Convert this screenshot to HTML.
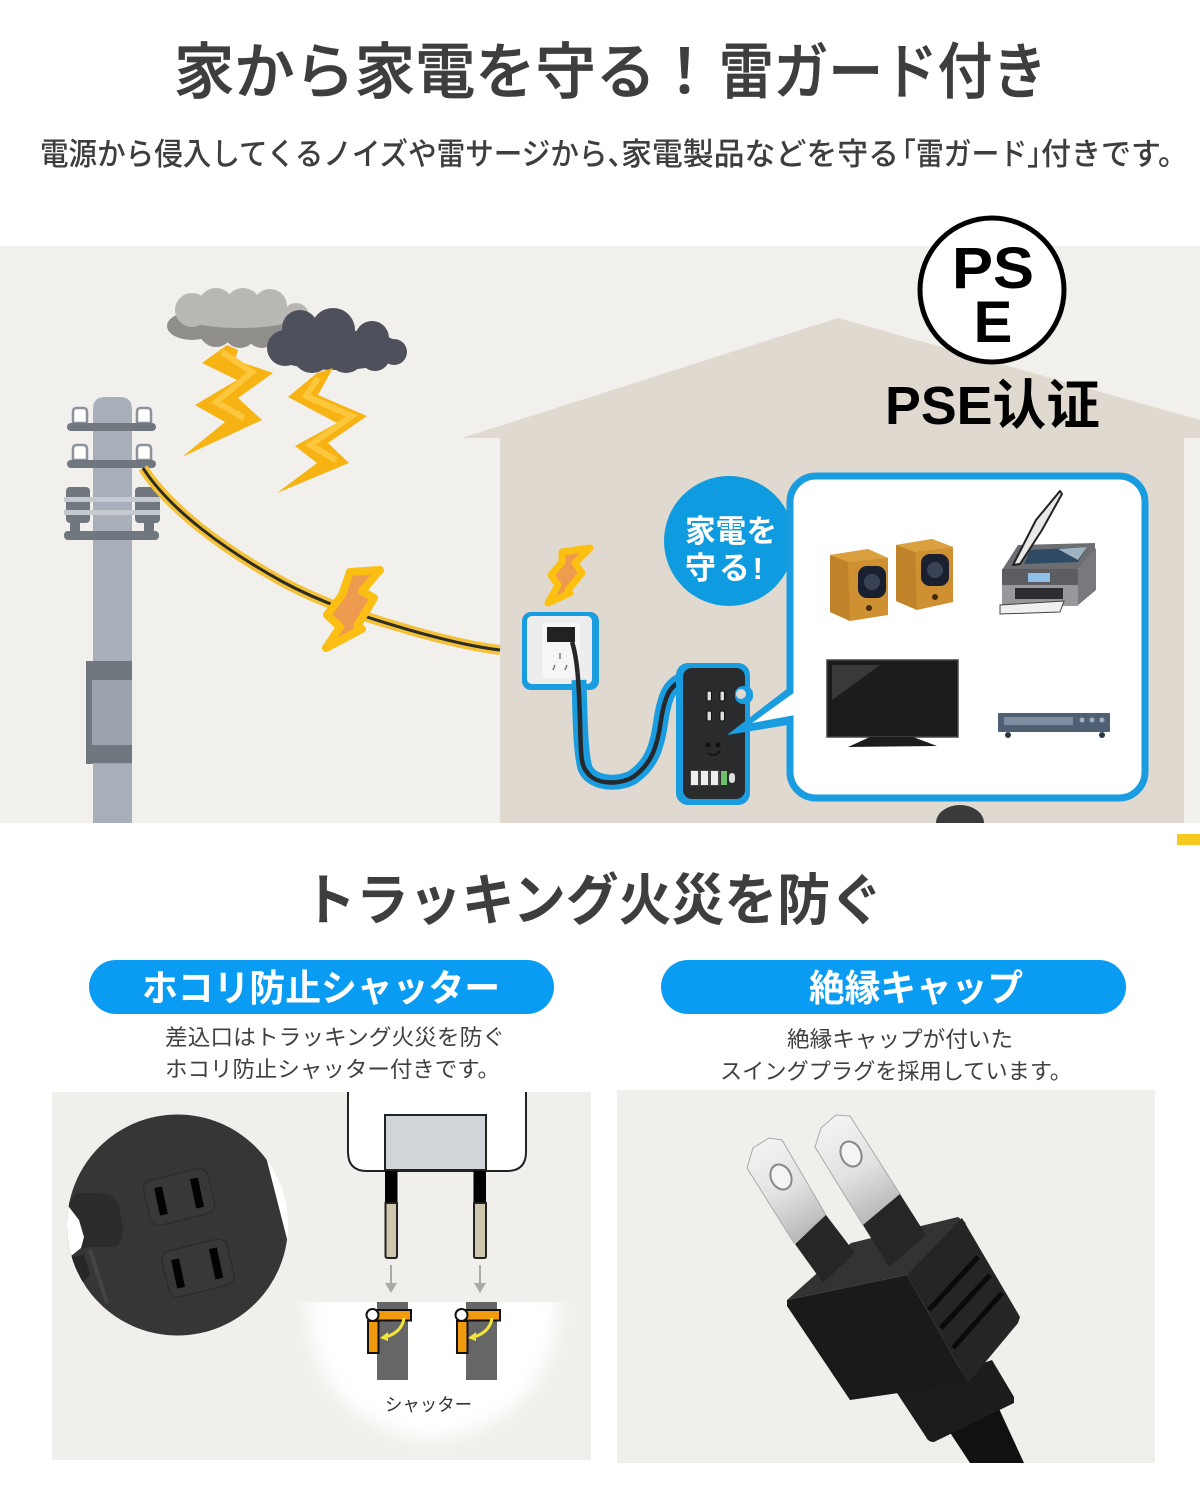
<!DOCTYPE html>
<html lang="ja"><head><meta charset="utf-8"><style>
html,body{margin:0;padding:0;background:#fff}
svg{display:block}
text{font-family:"Liberation Sans","Noto Sans CJK JP",sans-serif}
</style></head><body>
<svg width="1200" height="1500" viewBox="0 0 1200 1500" xmlns="http://www.w3.org/2000/svg">
<defs>
<clipPath id="cc"><circle cx="177.500" cy="1225" r="110.500"/></clipPath>
<clipPath id="gc"><rect x="280" y="1302" width="300" height="160"/></clipPath>
<filter id="bl" x="-20%" y="-20%" width="140%" height="140%"><feGaussianBlur stdDeviation="9"/></filter>
<linearGradient id="bladeL" x1="0" y1="0" x2="0.4" y2="1"><stop offset="0" stop-color="#f6f6f6"/><stop offset=".6" stop-color="#e2e2e2"/><stop offset="1" stop-color="#bdbdbd"/></linearGradient>
</defs>
<rect width="1200" height="1500" fill="#fff"/>

<g fill="#3e3e3e" stroke="#3e3e3e" stroke-width=".7">
<text x="174" y="93" font-size="61" font-weight="500" textLength="482" lengthAdjust="spacingAndGlyphs">家から家電を守る</text>
<text x="654" y="93" font-size="61" font-weight="500">！</text>
<text x="719" y="93" font-size="61" font-weight="500" textLength="328" lengthAdjust="spacingAndGlyphs">雷ガード付き</text>
</g>
<g fill="#3e3e3e" font-size="31" font-weight="500">
<text x="40" y="165" textLength="596" lengthAdjust="spacingAndGlyphs">電源から侵入してくるノイズや雷サージから、</text>
<text x="621" y="165" textLength="278" lengthAdjust="spacingAndGlyphs">家電製品などを守る</text>
<text x="888" y="165" textLength="167" lengthAdjust="spacingAndGlyphs">「雷ガード」</text>
<text x="1041" y="165" textLength="147" lengthAdjust="spacingAndGlyphs">付きです。</text>
</g>

<!-- illustration background -->
<rect x="0" y="246" width="1200" height="577" fill="#f1f0ec"/>
<polygon points="462,438 838,318 1200,420 1200,823 500,823 500,438" fill="#e0d9cf"/>
<rect x="1184" y="438" width="16" height="385" fill="#f1f0ec"/>
<polygon points="1184,438 1200,438 1200,424 1184,424" fill="#e0d9cf"/>

<!-- pole -->
<path d="M93 823V409Q93 397 105 397H120Q132 397 132 409V823Z" fill="#a8afba"/>
<g fill="#fff" stroke="#8b929b" stroke-width="2.500">
<path d="M73 423V412Q73 408 77 408H83Q87 408 87 412V423Z"/><path d="M137 423V412Q137 408 141 408H147Q151 408 151 412V423Z"/>
<path d="M73 460V449Q73 445 77 445H83Q87 445 87 449V460Z"/><path d="M137 460V449Q137 445 141 445H147Q151 445 151 449V460Z"/>
</g>
<g fill="#70777f">
<rect x="67" y="423" width="89" height="8" rx="4"/>
<rect x="67" y="460" width="89" height="8" rx="4"/>
<rect x="66" y="487" width="24" height="36" rx="4"/>
<rect x="135" y="487" width="25" height="36" rx="4"/>
<rect x="70" y="520" width="10" height="12"/><rect x="144" y="520" width="10" height="12"/>
<rect x="64" y="531" width="95" height="9" rx="4"/>
</g>
<rect x="64" y="497" width="96" height="5" fill="#c5cad0"/>
<rect x="64" y="510" width="96" height="5" fill="#c5cad0"/>
<rect x="86" y="661" width="46" height="103" fill="#9ba3ae"/>
<rect x="86" y="661" width="46" height="19" fill="#70777f"/>
<rect x="86" y="745" width="46" height="18" fill="#70777f"/>
<rect x="86" y="661" width="6" height="103" fill="#70777f"/>

<!-- wire -->
<path d="M143 468C170 510 225 550 283 582C320 602 360 616 420 633C450 641 475 647 500 650" fill="none" stroke="#f3c238" stroke-width="10"/>
<path d="M143 468C170 510 225 550 283 582C320 602 360 616 420 633C450 641 475 647 500 650" fill="none" stroke="#2d2d25" stroke-width="3"/>

<!-- clouds -->
<g fill="#8f8e8b"><ellipse cx="192" cy="326" rx="25" ry="14"/><circle cx="216" cy="330" r="17"/><circle cx="240" cy="332" r="16"/><circle cx="262" cy="332" r="16"/><rect x="255" y="316" width="52" height="22"/></g>
<g fill="#b9b7b2"><circle cx="192" cy="310" r="17"/><circle cx="216" cy="306" r="18"/><circle cx="243" cy="306" r="18"/><circle cx="270" cy="306" r="17"/><circle cx="296" cy="316" r="13"/><ellipse cx="240" cy="316" rx="58" ry="12"/></g>
<g fill="#4e505c"><ellipse cx="336" cy="350" rx="68" ry="20"/><circle cx="300" cy="328" r="18"/><circle cx="333" cy="330" r="22"/><circle cx="372" cy="338" r="17"/><circle cx="394" cy="352" r="13"/><circle cx="285" cy="348" r="18"/><circle cx="312" cy="353" r="20"/><circle cx="346" cy="354" r="19"/><circle cx="375" cy="356" r="15"/></g>

<!-- lightning -->
<polygon points="202,363 227,345 238,350 235,360 273,373 238,398 262,420 182,457 225,422 195,405 237,380" fill="#f6b313"/>
<polyline points="222,352 252,372 216,402 244,418" fill="none" stroke="#fcc73c" stroke-width="6"/>
<polygon points="317,373 333,368 318,395 367,416 328,443 349,463 277,493 317,463 295,446 337,423 288,397" fill="#f6b313"/>
<polyline points="318,378 306,396 352,416 310,445 336,460" fill="none" stroke="#fcc73c" stroke-width="6"/>
<polygon points="350,572 380,570 362,591 374,598 357,626 362,629 326,648 340,627 327,615 342,595" fill="#ee9a4f" stroke="#fbbe12" stroke-width="8" stroke-linejoin="round"/>
<polygon points="562,552 590,548 575,563 582,573 568,590 570,593 548,603 558,585 551,575 562,562" fill="#ee9b4e" stroke="#fcc010" stroke-width="7" stroke-linejoin="round"/>

<!-- PSE -->
<circle cx="992" cy="290" r="72" fill="#fff" stroke="#000" stroke-width="5"/>
<text x="993" y="288" font-size="58" font-weight="700" fill="#000" text-anchor="middle" textLength="82" lengthAdjust="spacingAndGlyphs">PS</text>
<text x="993" y="342" font-size="58" font-weight="700" fill="#000" text-anchor="middle">E</text>
<text x="885" y="424" font-size="54" font-weight="700" fill="#000" textLength="215" lengthAdjust="spacingAndGlyphs">PSE认证</text>

<!-- callout -->
<circle cx="729" cy="541" r="65" fill="#0f9be0"/>
<text x="685" y="542" font-size="31" font-weight="700" fill="#fff" textLength="92" lengthAdjust="spacingAndGlyphs">家電を</text>
<text x="685" y="579" font-size="31" font-weight="700" fill="#fff" textLength="78" lengthAdjust="spacing">守る!</text>

<!-- wall plate -->
<rect x="522" y="612" width="77" height="78" rx="9" fill="#1a9ce0"/>
<rect x="527" y="616" width="65" height="68" rx="5" fill="#ededed"/>
<rect x="542" y="623" width="38" height="55" rx="2" fill="#f6f6f6"/>
<path d="M560 653v6M555 665l-2 5M567 665l-2 5" stroke="#777" stroke-width="1.500" fill="none"/>
<rect x="547" y="627" width="28" height="15" fill="#222"/>

<!-- cable -->
<path d="M579 680C580 710 580 750 585 768C592 785 620 785 633 777C650 765 657 750 661 720C665 695 670 685 682 680" fill="none" stroke="#1a9ce0" stroke-width="15"/>
<path d="M572 642C578 660 579 690 580 720C581 750 580 765 587 772C595 785 620 785 633 777C650 765 657 750 661 720C665 695 670 685 684 680" fill="none" stroke="#26282b" stroke-width="4.500"/>

<!-- power strip -->
<rect x="676" y="663" width="74" height="142" rx="12" fill="#1a9ce0"/>
<rect x="683" y="668" width="62" height="131" rx="9" fill="#2a2b2d"/>
<rect x="735" y="686" width="18" height="18" rx="8" fill="#1a9ce0"/>
<circle cx="741" cy="694" r="5" fill="#e0d9cf"/>
<g fill="#ddd" stroke="#111" stroke-width="1">
<rect x="707" y="691" width="4.500" height="10" rx="2"/><rect x="720" y="691" width="4.500" height="10" rx="2"/>
<rect x="707" y="711" width="4.500" height="10" rx="2"/><rect x="720" y="711" width="4.500" height="10" rx="2"/>
</g>
<circle cx="708" cy="745" r="2.500" fill="#111"/><circle cx="718" cy="745" r="2.500" fill="#111"/>
<path d="M708 753q6 5 12-2" stroke="#111" stroke-width="1.500" fill="none"/>
<g>
<rect x="690" y="770" width="30" height="16" fill="#444"/>
<rect x="691" y="771" width="7" height="14" fill="#eee"/><rect x="701" y="771" width="7" height="14" fill="#eee"/><rect x="711" y="771" width="7" height="14" fill="#eee"/>
<rect x="721" y="771" width="6" height="14" fill="#6fc06a"/><rect x="729" y="773" width="6" height="10" rx="3" fill="#ddd"/>
</g>

<!-- box + pointer -->
<polygon points="788,688 727,735 788,725" fill="#1a9ce0"/>
<rect x="790" y="476" width="355" height="322" rx="26" fill="#fff" stroke="#1a9ce0" stroke-width="7"/>
<polygon points="795,692 752,723 795,715" fill="#fff"/>

<!-- speakers -->
<polygon points="830,555 868,549 888,558 888,615 850,621 830,612" fill="#cf9032"/>
<polygon points="830,555 848,562 850,621 830,612" fill="#c0832a"/>
<polygon points="830,555 868,549 888,558 848,562" fill="#dba140"/>
<rect x="858" y="566" width="28" height="32" rx="9" fill="#1b2030"/><circle cx="872" cy="582" r="8" fill="#3a4256"/>
<circle cx="869" cy="608" r="3" fill="#432a0c"/>
<polygon points="896,545 932,539 953,547 953,602 917,610 896,601" fill="#cf9032"/>
<polygon points="896,545 915,552 917,610 896,601" fill="#c0832a"/>
<polygon points="896,545 932,539 953,547 915,552" fill="#dba140"/>
<rect x="921" y="554" width="28" height="32" rx="9" fill="#1b2030"/><circle cx="935" cy="570" r="8" fill="#3a4256"/>
<circle cx="935" cy="597" r="3" fill="#432a0c"/>
<!-- printer -->
<polygon points="1002,570 1018,545 1095,543 1095,558 1077,569" fill="#6c6e72"/>
<polygon points="1030,550 1087,547 1078,562 1024,564" fill="#2f4a63"/>
<polygon points="1058,549 1087,547 1078,560" fill="#9fb2bf"/>
<polygon points="1077,569 1096,548 1096,590 1077,606" fill="#77797c"/>
<rect x="1002" y="569" width="76" height="37" fill="#97989b"/>
<rect x="1002" y="569" width="76" height="16" fill="#5c5d60"/>
<rect x="1028" y="573" width="22" height="9" fill="#8fc1e8"/>
<rect x="1015" y="588" width="48" height="11" fill="#2d2d30"/>
<polygon points="1000,605 1064,601 1060,612 1000,614" fill="#f0f0f0" stroke="#444" stroke-width="1"/>
<polygon points="1013,565 1036,520 1060,491 1062,494 1042,530 1020,564" fill="#e8e8e8" stroke="#222" stroke-width="2" stroke-linejoin="round"/>
<!-- TV -->
<rect x="827" y="660" width="131" height="77" fill="#1d1b1d" stroke="#444" stroke-width="1.500"/>
<polygon points="832,665 880,665 832,700" fill="#3a383a"/>
<polygon points="870,737 913,737 937,746 848,747" fill="#1d1b1d"/>
<!-- DVD -->
<rect x="998" y="713" width="112" height="19" rx="1" fill="#4f6075"/>
<rect x="1004" y="717" width="69" height="8" fill="#7e8da0"/>
<circle cx="1082" cy="720" r="2.500" fill="#9fb0c2"/><circle cx="1092" cy="720" r="2.500" fill="#9fb0c2"/><circle cx="1102" cy="720" r="2.500" fill="#9fb0c2"/>
<circle cx="1008" cy="735" r="3" fill="#2c3645"/><circle cx="1102" cy="735" r="3" fill="#2c3645"/>

<!-- cut-off bit -->
<path d="M936 823a24 18 0 0 1 48 0z" fill="#3a3a3a"/>
<rect x="0" y="823" width="1200" height="677" fill="#fff"/>
<rect x="1177" y="834" width="23" height="11" fill="#f6c91f"/>

<!-- section 2 -->
<text x="303" y="920" font-size="56" font-weight="700" fill="#3e3e3e" textLength="580" lengthAdjust="spacingAndGlyphs">トラッキング火災を防ぐ</text>
<rect x="89" y="960" width="465" height="54" rx="27" fill="#0a9cf2"/>
<rect x="661" y="960" width="465" height="54" rx="27" fill="#0a9cf2"/>
<text x="321" y="1001" font-size="37" font-weight="700" fill="#fff" text-anchor="middle" textLength="358" lengthAdjust="spacingAndGlyphs">ホコリ防止シャッター</text>
<text x="916" y="1001" font-size="37" font-weight="700" fill="#fff" text-anchor="middle" textLength="214" lengthAdjust="spacingAndGlyphs">絶縁キャップ</text>
<g font-size="22" fill="#3f3f3f">
<text x="165" y="1045" textLength="340" lengthAdjust="spacingAndGlyphs">差込口はトラッキング火災を防ぐ</text>
<text x="165" y="1077" textLength="335" lengthAdjust="spacingAndGlyphs">ホコリ防止シャッター付きです。</text>
<text x="787" y="1047" textLength="226" lengthAdjust="spacingAndGlyphs">絶縁キャップが付いた</text>
<text x="720" y="1079" textLength="352" lengthAdjust="spacingAndGlyphs">スイングプラグを採用しています。</text>
</g>

<!-- left panel -->
<rect x="52" y="1092" width="539" height="368" fill="#f0efeb"/>
<circle cx="177.500" cy="1225" r="110.500" fill="#fff"/>
<g clip-path="url(#cc)">
<polygon points="60,1100 262,1100 265,1153 288,1243 288,1345 60,1345" fill="#363636"/>
<path d="M69 1203L76 1193H101Q117 1195 119 1207L123 1230Q122 1245 114 1247H90L81 1248Z" fill="#2b2b2b"/>
<polygon points="60,1200 69,1207 79,1220 84,1237 81,1248 71,1256 60,1256" fill="#fff"/>
<polygon points="70,1258 84,1254 90,1275 80,1285" fill="#262626"/>
<path d="M90 1250L107 1303" stroke="#444" stroke-width="4"/>
</g>
<rect x="146" y="1174" width="66" height="46" rx="9" fill="#383838" stroke="#2c2c2c" stroke-width="1.500" transform="rotate(-14 179 1197)"/>
<rect x="164.500" y="1244.500" width="67" height="47" rx="9" fill="#383838" stroke="#2c2c2c" stroke-width="1.500" transform="rotate(-14 198 1268)"/>
<g fill="#030303">
<rect x="157" y="1187" width="8" height="28" transform="rotate(-12 161 1201)"/>
<rect x="193" y="1178" width="8" height="30" transform="rotate(-12 197 1193)"/>
<rect x="174" y="1259" width="8" height="29" transform="rotate(-12 178 1273)"/>
<rect x="212" y="1248" width="8" height="31" transform="rotate(-12 216 1263)"/>
</g>

<!-- glow -->
<g clip-path="url(#gc)"><path d="M308 1290H558C562 1370 520 1430 430 1440C345 1430 305 1370 308 1290Z" fill="#fff" filter="url(#bl)"/></g>

<!-- plug diagram -->
<path d="M348 1092V1152Q348 1171 367 1171H507Q526 1171 526 1152V1092" fill="#fff" stroke="#222" stroke-width="2"/>
<rect x="385" y="1115" width="101" height="55" fill="#d0d5da" stroke="#222" stroke-width="2"/>
<rect x="385" y="1171" width="12.500" height="33" fill="#000"/>
<rect x="473.500" y="1171" width="12.500" height="33" fill="#000"/>
<path d="M385.500 1203V1256Q385.500 1258 388 1258H395Q397 1258 397 1256V1203Z" fill="#cfc6ae" stroke="#222" stroke-width="2"/>
<path d="M474 1203V1256Q474 1258 476 1258H484Q486 1258 486 1256V1203Z" fill="#cfc6ae" stroke="#222" stroke-width="2"/>
<path d="M391 1265V1285M480 1265V1285" stroke="#aaa" stroke-width="2"/>
<polygon points="385,1283 397,1283 391,1293" fill="#aaa"/><polygon points="474,1283 486,1283 480,1293" fill="#aaa"/>
<g>
<rect x="377" y="1302" width="31" height="78" fill="#666"/><rect x="466" y="1302" width="31" height="78" fill="#666"/>
<g fill="#f29a0e" stroke="#111" stroke-width="2">
<rect x="377" y="1310" width="34" height="10.500"/><rect x="368" y="1321" width="10.500" height="32"/>
<rect x="466" y="1310" width="34" height="10.500"/><rect x="457" y="1321" width="10.500" height="32"/>
</g>
<circle cx="372.500" cy="1315" r="6" fill="#fff" stroke="#111" stroke-width="2"/>
<circle cx="461.500" cy="1315" r="6" fill="#fff" stroke="#111" stroke-width="2"/>
<path d="M404 1318Q402 1332 386 1337M492 1318Q490 1332 474 1337" fill="none" stroke="#f5e43a" stroke-width="3"/>
<polygon points="380,1338 388,1332 388,1341" fill="#f5e43a"/><polygon points="468,1338 476,1332 476,1341" fill="#f5e43a"/>
</g>
<text x="385" y="1411" font-size="18" fill="#333" textLength="87" lengthAdjust="spacingAndGlyphs">シャッター</text>

<!-- right panel -->
<rect x="617" y="1090" width="538" height="373" fill="#f0efeb"/>
<!-- cord -->
<polygon points="945,1425 995,1400 1024,1463 970,1463" fill="#111"/>
<path d="M897 1393L992 1360L1014 1397V1403L934 1442Q928 1442 926 1437Z" fill="#1c1c1c"/>
<!-- blades -->
<polygon points="747,1168 753,1148 769,1138 782,1140 826,1215 794,1243" fill="url(#bladeL)" stroke="#aaa" stroke-width="1"/>
<polygon points="815,1147 821,1128 836,1115 850,1116 900,1194 863,1225" fill="url(#bladeL)" stroke="#aaa" stroke-width="1"/>
<ellipse cx="781" cy="1177" rx="10" ry="13" fill="#f4f4f4" stroke="#888" stroke-width="2" transform="rotate(-25 781 1177)"/>
<ellipse cx="851" cy="1154" rx="10" ry="13" fill="#f4f4f4" stroke="#888" stroke-width="2" transform="rotate(-25 851 1154)"/>
<!-- body -->
<polygon points="787,1300 851,1243 958,1217 966,1223 907,1275" fill="#333"/>
<polygon points="787,1300 907,1275 968,1383 850,1400 787,1306" fill="#1a1a1a"/>
<polygon points="907,1275 962,1218 1020,1317 1018,1323 968,1383" fill="#252525"/>
<polygon points="826,1215 795,1244 823,1283 855,1253" fill="#262626"/>
<polygon points="900,1194 863,1225 889,1267 926,1235" fill="#262626"/>
<path d="M929 1310L978 1257M941 1328L990 1275M953 1348L1002 1293" stroke="#0a0a0a" stroke-width="5"/>
</svg>
</body></html>
